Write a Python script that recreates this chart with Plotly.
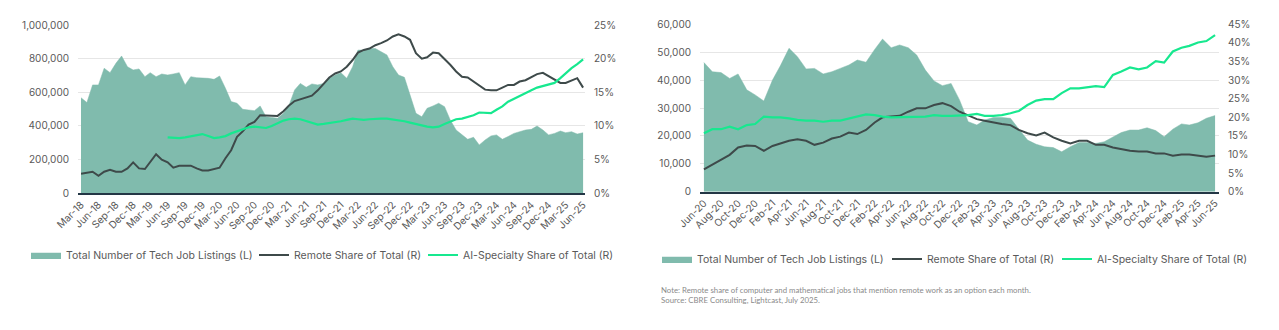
import pandas as pd
import plotly.graph_objects as go

# ---------------- Left panel: monthly, Mar-18 .. Jun-25 ----------------
left_months = pd.date_range("2018-03-01", "2025-06-01", freq="MS")

left_listings = [
    568000, 539000, 644000, 644000, 743000, 717000, 772000, 816000, 752000, 733000,
    739000, 693000, 717000, 693000, 709000, 703000, 709000, 717000, 644000, 693000,
    687000, 687000, 683000, 677000, 697000, 624000, 545000, 535000, 499000, 495000,
    491000, 519000, 455000, 451000, 446000, 475000, 519000, 614000, 653000, 630000,
    650000, 644000, 653000, 683000, 703000, 717000, 683000, 752000, 851000, 851000,
    861000, 860000, 842000, 822000, 752000, 703000, 689000, 584000, 475000, 455000,
    505000, 519000, 535000, 515000, 436000, 376000, 347000, 321000, 333000, 287000,
    317000, 341000, 347000, 321000, 337000, 356000, 366000, 376000, 380000, 400000,
    376000, 347000, 356000, 370000, 360000, 366000, 352000, 360000,
]

left_remote = [
    2.9, 3.0, 3.2, 2.6, 3.2, 3.5, 3.2, 3.2, 3.7, 4.6,
    3.7, 3.6, 4.7, 5.8, 5.0, 4.6, 3.8, 4.1, 4.1, 4.1,
    3.7, 3.4, 3.4, 3.6, 3.8, 5.2, 6.4, 8.4, 9.2, 10.2,
    10.6, 11.6, 11.6, 11.6, 11.5, 12.2, 13.0, 13.7, 14.0, 14.2,
    14.5, 15.3, 16.2, 17.2, 17.8, 18.1, 18.8, 19.8, 20.9, 21.3,
    21.5, 22.0, 22.3, 22.7, 23.3, 23.6, 23.3, 22.8, 20.8, 20.0,
    20.2, 20.9, 20.8, 20.0, 19.1, 18.1, 17.3, 17.2, 16.6, 15.9,
    15.4, 15.3, 15.3, 15.7, 16.1, 16.1, 16.6, 16.8, 17.3, 17.7,
    17.9, 17.4, 16.8, 16.4, 16.4, 16.8, 17.1, 15.7,
]

# AI-specialty share is reported from Jun-19 onward
left_ai = [None] * 15 + [
    8.3, 8.2, 8.2, 8.3, 8.5, 8.7, 8.8, 8.5, 8.2, 8.3,
    8.5, 8.9, 9.2, 9.4, 9.8, 9.9, 9.8, 9.7, 10.0, 10.4,
    10.8, 11.0, 11.1, 11.0, 10.7, 10.4, 10.2, 10.3, 10.4, 10.5,
    10.7, 10.9, 11.1, 11.0, 10.9, 11.0, 11.1, 11.1, 11.1, 11.0,
    10.9, 10.7, 10.5, 10.3, 10.0, 9.9, 9.8, 9.9, 10.3, 10.6,
    11.0, 11.1, 11.3, 11.6, 12.0, 12.0, 11.9, 12.4, 12.9, 13.6,
    14.0, 14.4, 14.9, 15.3, 15.7, 15.9, 16.2, 16.4, 17.1, 17.8,
    18.6, 19.2, 19.9,
]

# ---------------- Right panel: monthly, Jun-20 .. Jun-25 ----------------
right_months = pd.date_range("2020-06-01", "2025-06-01", freq="MS")

right_listings = [
    46300, 43000, 42700, 40600, 42200, 36500, 34700, 32500, 40000, 45100,
    51400, 48400, 44000, 44200, 42200, 43000, 44200, 45400, 47200, 46400,
    51000, 54700, 51600, 52600, 51600, 49000, 43600, 39700, 38000, 38800,
    32900, 25100, 23900, 25700, 26600, 26600, 26300, 22400, 18500, 17000,
    16100, 15800, 14300, 16100, 17600, 17600, 17300, 17900, 19500, 21200,
    22100, 22100, 22900, 21900, 19700, 22400, 24300, 23900, 24700, 26300,
    27300,
]

right_remote = [
    6.0, 7.2, 8.5, 9.9, 11.9, 12.4, 12.3, 11.0, 12.3, 13.0,
    13.7, 14.1, 13.7, 12.6, 13.2, 14.3, 14.8, 15.9, 15.5, 16.6,
    18.6, 20.0, 20.2, 20.4, 21.5, 22.4, 22.4, 23.3, 23.8, 23.0,
    21.5, 20.6, 19.5, 19.1, 18.6, 18.2, 17.9, 16.6, 15.7, 15.1,
    15.9, 14.6, 13.7, 13.0, 13.7, 13.7, 12.6, 12.6, 11.9, 11.5,
    11.0, 10.8, 10.8, 10.3, 10.3, 9.7, 10.0, 10.0, 9.7, 9.4,
    9.7,
]

right_ai = [
    15.7, 16.8, 16.8, 17.5, 16.8, 17.9, 18.2, 20.2, 20.0, 20.0,
    19.7, 19.3, 19.1, 19.1, 18.8, 19.1, 19.1, 19.7, 20.4, 20.8,
    20.6, 20.2, 20.0, 20.0, 20.2, 20.2, 20.2, 20.6, 20.4, 20.4,
    20.4, 20.6, 20.9, 20.4, 20.4, 20.6, 21.1, 21.7, 23.3, 24.5,
    24.9, 24.9, 26.5, 27.8, 27.8, 28.1, 28.4, 28.1, 31.4, 32.3,
    33.4, 32.9, 33.4, 35.1, 34.7, 37.7, 38.7, 39.2, 40.1, 40.5,
    42.1,
]

# ---------------- Styling ----------------
W, H = 1279, 330
FONT = "Inter"
TEXT = "#595959"
GRID = "#e6e6e6"
AXIS = "#233645"
C_AREA = "#80BBAD"
C_REMOTE = "#3E4A4A"
C_AI = "#17E88F"

NAME_TOTAL = "Total Number of Tech Job Listings (L)"
NAME_REMOTE = "Remote Share of Total (R)"
NAME_AI = "AI-Specialty Share of Total (R)"


def px_x(p):
    return p / W


def px_y(p):
    return (H - p) / H


fig = go.Figure()

# left panel traces
fig.add_trace(go.Scatter(x=left_months, y=left_listings, name=NAME_TOTAL, mode="lines",
                         fill="tozeroy", fillcolor=C_AREA, line=dict(color=C_AREA, width=0.5),
                         xaxis="x", yaxis="y", legend="legend"))
fig.add_trace(go.Scatter(x=left_months, y=left_remote, name=NAME_REMOTE, mode="lines",
                         line=dict(color=C_REMOTE, width=2), xaxis="x", yaxis="y2", legend="legend3"))
fig.add_trace(go.Scatter(x=left_months, y=left_ai, name=NAME_AI, mode="lines",
                         line=dict(color=C_AI, width=2.2), xaxis="x", yaxis="y2", legend="legend4"))

# right panel traces
fig.add_trace(go.Scatter(x=right_months, y=right_listings, name=NAME_TOTAL, mode="lines",
                         fill="tozeroy", fillcolor=C_AREA, line=dict(color=C_AREA, width=0.5),
                         xaxis="x2", yaxis="y3", legend="legend2"))
fig.add_trace(go.Scatter(x=right_months, y=right_remote, name=NAME_REMOTE, mode="lines",
                         line=dict(color=C_REMOTE, width=2), xaxis="x2", yaxis="y4", legend="legend5"))
fig.add_trace(go.Scatter(x=right_months, y=right_ai, name=NAME_AI, mode="lines",
                         line=dict(color=C_AI, width=2.2), xaxis="x2", yaxis="y4", legend="legend6"))

tick_font = dict(family=FONT, size=10, color=TEXT)

xcommon = dict(type="date", tickformat="%b-%y", tickangle=-45, showgrid=False,
               showline=True, linecolor=AXIS, linewidth=1.5, ticks="",
               tickfont=tick_font, zeroline=False, fixedrange=True, automargin=False)
ycommon = dict(showgrid=True, gridcolor=GRID, gridwidth=1, zeroline=False, showline=False,
               ticks="", tickfont=tick_font, ticklabelstandoff=8, automargin=False)

legend_font = dict(family=FONT, size=10.5, color=TEXT)


def legend_at(x_px, y_px):
    return dict(orientation="h", x=px_x(x_px), y=px_y(y_px), xanchor="left", yanchor="middle",
                font=legend_font, itemwidth=30, bgcolor="rgba(0,0,0,0)")


fig.update_layout(
    width=W, height=H,
    margin=dict(l=0, r=0, t=0, b=0),
    paper_bgcolor="white", plot_bgcolor="white",
    font=dict(family=FONT, color=TEXT),
    xaxis=dict(xcommon, domain=[px_x(78), px_x(585)], anchor="y",
               range=["2018-02-13", "2025-06-11"], tick0="2018-03-01", dtick="M3"),
    yaxis=dict(ycommon, domain=[px_y(193.3), px_y(25)], anchor="x",
               range=[0, 1000000], dtick=200000, tickformat=","),
    yaxis2=dict(ycommon, overlaying="y", side="right", anchor="x", showgrid=False,
                range=[0, 25], dtick=5, ticksuffix="%"),
    xaxis2=dict(xcommon, domain=[px_x(700), px_x(1219)], anchor="y3",
                range=["2020-05-18", "2025-06-15"], tick0="2020-06-01", dtick="M2"),
    yaxis3=dict(ycommon, domain=[px_y(191.7), px_y(24.3)], anchor="x2",
                range=[0, 60000], dtick=10000, tickformat=","),
    yaxis4=dict(ycommon, overlaying="y3", side="right", anchor="x2", showgrid=False,
                range=[0, 45], dtick=5, ticksuffix="%"),
    # one legend entry per series, left panel then right panel
    legend=legend_at(26, 255),
    legend3=legend_at(254, 255),
    legend4=legend_at(423, 255),
    legend2=legend_at(657, 259),
    legend5=legend_at(887, 259),
    legend6=legend_at(1057, 259),
    showlegend=True,
)

fig.add_annotation(
    text="Note: Remote share of computer and mathematical jobs that mention remote work as an option each month."
         "<br>Source: CBRE Consulting, Lightcast, July 2025.",
    x=px_x(659), y=px_y(283), xref="paper", yref="paper", xanchor="left", yanchor="top",
    align="left", showarrow=False, font=dict(family="Lato", size=7.8, color="#8a8a8a"),
)

fig.write_html("out.html")
